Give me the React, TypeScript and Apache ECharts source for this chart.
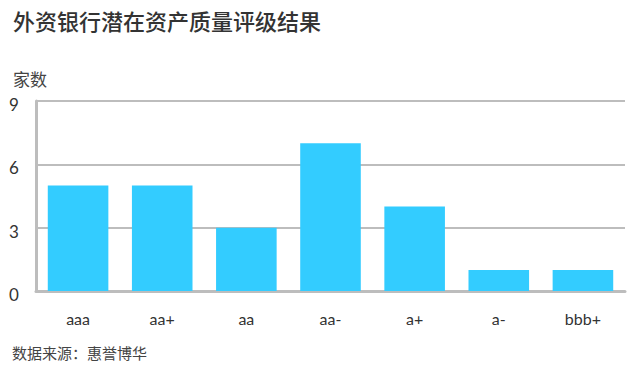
import React, { useEffect, useRef } from "react";
import * as echarts from "echarts";

const categories = ["aaa", "aa+", "aa", "aa-", "a+", "a-", "bbb+"];
const values = [5, 5, 3, 7, 4, 1, 1];
const yTicks = [0, 3, 6, 9];

const titleText = "外资银行潜在资产质量评级结果";
const unitText = "家数";
const sourceText = "数据来源：惠誉博华";

export default function App() {
  const ref = useRef<HTMLDivElement>(null);
  useEffect(() => {
    const chart = echarts.init(ref.current!, null, { renderer: "svg" });
    chart.setOption({
      animation: false,
      backgroundColor: "#fff",
      graphic: [
        { type: "text", left: 13, top: 9, style: { text: titleText, font: "500 22px 'Noto Sans CJK SC'", fill: "#333" } },
        { type: "text", left: 13, top: 70, style: { text: unitText, font: "17px 'Noto Sans CJK SC'", fill: "#444" } },
        { type: "text", left: 12, top: 345, style: { text: sourceText, font: "15px 'Noto Sans CJK SC'", fill: "#444" } },
      ],
      grid: { left: 36, right: 13, top: 101, bottom: 92, containLabel: false },
      xAxis: {
        type: "category",
        data: categories,
        axisLine: { show: true, lineStyle: { color: "#bdbdbd", width: 3 } },
        axisTick: { show: false },
        axisLabel: { color: "#333", fontSize: 16, margin: 19, fontFamily: "Lato" },
      },
      yAxis: {
        type: "value",
        min: 0,
        max: 9,
        interval: 3,
        axisLine: { show: true, lineStyle: { color: "#bdbdbd", width: 3 } },
        axisTick: { show: false },
        axisLabel: {
          color: "#333",
          fontSize: 17,
          fontFamily: "Lato",
          align: "center",
          verticalAlign: "top",
          padding: [-5, 0, 0, 0],
          margin: 22,
          formatter: (v: number) => (yTicks.includes(v) ? String(v) : ""),
        },
        splitLine: { show: true, lineStyle: { color: "#bdbdbd", width: 2 } },
      },
      series: [
        {
          type: "bar",
          data: values,
          barWidth: "72%",
          itemStyle: { color: "#33ccff" },
        },
      ],
    });
    return () => chart.dispose();
  }, []);
  return <div ref={ref} style={{ position: "fixed", left: 0, top: 0, width: 638, height: 383 }} />;
}
